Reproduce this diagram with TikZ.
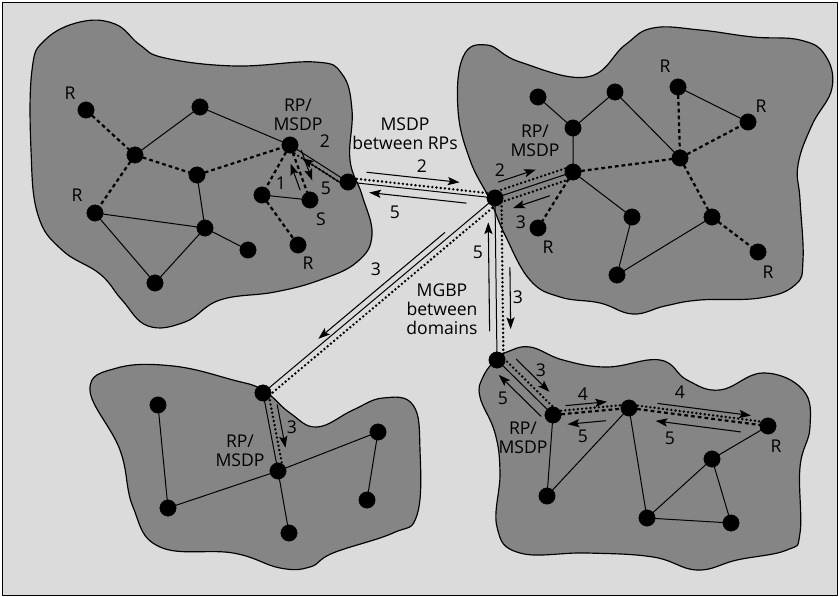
\documentclass[tikz,border=0pt]{standalone}
\usepackage{fontspec}
\setmainfont{Open Sans}
\usetikzlibrary{calc,arrows.meta}

\begin{document}
\begin{tikzpicture}[x=0.03cm, y=-0.03cm, line join=round, line cap=round,
    dot/.style={draw,circle,minimum size=4.9mm,inner sep=0pt,outer sep=0pt,fill=black},
    region/.style={draw, line width=1pt, fill=black!48},
    link/.style={line width=0.85pt},
    rpt/.style={line width=1.9pt, dash pattern=on 3.2pt off 2.6pt, line cap=butt},
    spt/.style={line width=2.3pt, dash pattern=on 0pt off 3.6pt, line cap=round},
    msg/.style={line width=0.9pt, -{Stealth[length=10pt,width=7pt,inset=2pt]}},
    lbl/.style={font=\fontsize{15}{16}\selectfont, inner sep=1pt, align=center}]

  \useasboundingbox (0,0) rectangle (839,597);
  \draw[fill=black!14, line width=0.6pt] (2,2) rectangle (837,595);

  % domains
  \draw[region] plot[smooth cycle, tension=0.7] coordinates {(45,40) (80,22) (115,24) (140,45) (165,58) (235,66) (315,62) (342,74) (352,110) (350,160) (362,195) (372,235) (357,262) (320,280) (275,292) (220,300) (185,322) (148,326) (122,300) (100,274) (62,250) (38,215) (31,150) (32,70)};
  \draw[region] plot[smooth cycle, tension=0.7] coordinates {(463,57) (487,45) (520,62) (587,77) (625,45) (653,28) (700,30) (753,37) (800,40) (825,55) (832,88) (812,125) (798,165) (800,200) (803,260) (795,285) (760,298) (700,300) (665,306) (633,314) (600,303) (560,297) (530,280) (505,235) (490,200) (470,160) (458,110)};
  \draw[region] plot[smooth cycle, tension=0.7] coordinates {(90,390) (117,368) (173,366) (233,380) (263,390) (290,413) (317,427) (353,410) (383,398) (413,405) (420,450) (417,515) (393,533) (333,553) (310,567) (280,568) (233,553) (160,547) (133,507) (120,450)};
  \draw[region] plot[smooth cycle, tension=0.7] coordinates {(497,358) (483,377) (480,397) (495,433) (500,473) (497,527) (520,553) (587,553) (653,557) (697,570) (737,560) (787,550) (800,533) (800,467) (810,427) (803,390) (763,373) (720,390) (687,380) (660,360) (607,367) (563,360) (530,347) (507,352)};

  % routers
  \node[dot] (a1) at (86,110) {};
  \node[dot] (a2) at (200,107) {};
  \node[dot] (a3) at (135,155) {};
  \node[dot] (a4) at (290,145) {};
  \node[dot] (a5) at (197,175) {};
  \node[dot] (a6) at (348,182) {};
  \node[dot] (a7) at (262,195) {};
  \node[dot] (a8) at (310,200) {};
  \node[dot] (a9) at (95,213) {};
  \node[dot] (a10) at (205,228) {};
  \node[dot] (a11) at (248,250) {};
  \node[dot] (a12) at (298,245) {};
  \node[dot] (a13) at (155,283) {};

  \node[dot] (hub) at (495,198) {};

  \node[dot] (b1) at (538,97) {};
  \node[dot] (b2) at (615,92) {};
  \node[dot] (b3) at (678,87) {};
  \node[dot] (b4) at (573,128) {};
  \node[dot] (b5) at (748,122) {};
  \node[dot] (b6) at (573,172) {};
  \node[dot] (b7) at (680,158) {};
  \node[dot] (b8) at (538,228) {};
  \node[dot] (b9) at (632,217) {};
  \node[dot] (b10) at (712,217) {};
  \node[dot] (b11) at (758,252) {};
  \node[dot] (b12) at (617,275) {};

  \node[dot] (c1) at (263,393) {};
  \node[dot] (c2) at (158,405) {};
  \node[dot] (c3) at (278,471) {};
  \node[dot] (c4) at (378,432) {};
  \node[dot] (c5) at (168,508) {};
  \node[dot] (c6) at (367,500) {};
  \node[dot] (c7) at (289,533) {};

  \node[dot] (d1) at (497,360) {};
  \node[dot] (d2) at (553,415) {};
  \node[dot] (d3) at (629,408) {};
  \node[dot] (d4) at (768,426) {};
  \node[dot] (d5) at (547,496) {};
  \node[dot] (d6) at (712,459) {};
  \node[dot] (d7) at (647,518) {};
  \node[dot] (d8) at (731,523) {};

  % links
  \draw[link] (a2) -- (a3);
  \draw[link] (a2) -- (a4);
  \draw[link] (a5) -- (a10);
  \draw[link] (a9) -- (a10) -- (a11);
  \draw[link] (a9) -- (a13) -- (a10);
  \draw[link] (a7) -- (a8);
  \draw[link] (a4) -- (a6) -- (hub);

  \draw[link] (b1) -- (b4) -- (b2) -- (b7);
  \draw[link] (b3) -- (b5);
  \draw[link] (b4) -- (b6) -- (b9) -- (b12) -- (b10);
  \draw[link] (hub) -- (b6);

  \draw[link] (hub) -- (c1) -- (c3) -- (c7);
  \draw[link] (c2) -- (c5) -- (c3) -- (c4) -- (c6);

  \draw[link] (hub) -- (d1) -- (d2) -- (d5) -- (d3) -- (d7) -- (d6) -- (d4);
  \draw[link] (d6) -- (d8) -- (d7);

  % shared trees
  \draw[rpt] (a1) -- (a3) -- (a5) -- (a4);
  \draw[rpt] (a3) -- (a9);
  \draw[rpt] (a4) -- (a7) -- (a12);
  \draw[rpt] (a4) -- (a8);
  \draw[rpt] (b3) -- (b7) -- (b5);
  \draw[rpt] (b6) -- (b7) -- (b10) -- (b11);
  \draw[rpt] (b6) -- (b8);
  \draw[rpt] (d2) -- (d3) -- (d4);

  % source tree
  \draw[spt] ($(a4)!4pt!-90:(a6)$) -- ($(a6)!4pt!90:(a4)$);
  \draw[spt] ($(a6)!3.5pt!90:(hub)$) -- ($(hub)!3.5pt!-90:(a6)$);
  \draw[spt] ($(hub)!5pt!90:(b6)$) -- ($(b6)!5pt!-90:(hub)$);
  \draw[spt] ($(hub)!5pt!-90:(b6)$) -- ($(b6)!5pt!90:(hub)$);
  \draw[spt] ($(hub)!5pt!90:(c1)$) -- ($(c1)!5pt!-90:(hub)$);
  \draw[spt] ($(hub)!5.5pt!90:(d1)$) -- ($(d1)!5.5pt!-90:(hub)$);
  \draw[spt] ($(c1)!4.5pt!90:(c3)$) -- ($(c3)!4.5pt!-90:(c1)$);
  \draw[spt] ($(d1)!5pt!90:(d2)$) -- ($(d2)!5pt!-90:(d1)$);
  \draw[spt] ($(d2)!3pt!90:(d3)$) -- ($(d3)!3pt!-90:(d2)$);
  \draw[spt] ($(d3)!3pt!90:(d4)$) -- ($(d4)!3pt!-90:(d3)$);

  % messages
  \draw[msg] ($(a6)!0.1!(a4)!4pt!90:(a4)$) -- ($(a6)!0.75!(a4)!4pt!90:(a4)$);
  \draw[msg] ($(a8)!0.22!(a4)!5pt!90:(a4)$) -- ($(a8)!0.7!(a4)!5pt!90:(a4)$);
  \draw[msg] ($(a4)!0.15!(a8)!7.5pt!90:(a8)$) -- ($(a4)!0.7!(a8)!7.5pt!90:(a8)$);
  \draw[msg] ($(a6)!0.12!(hub)!10pt!90:(hub)$) -- ($(a6)!0.75!(hub)!10pt!90:(hub)$);
  \draw[msg] ($(hub)!0.19!(a6)!7pt!90:(a6)$) -- ($(hub)!0.85!(a6)!7pt!90:(a6)$);
  \draw[msg] ($(hub)!0.1!(b6)!12pt!90:(b6)$) -- ($(hub)!0.58!(b6)!12pt!90:(b6)$);
  \draw[msg] ($(b6)!0.36!(hub)!13pt!90:(hub)$) -- ($(b6)!0.83!(hub)!13pt!90:(hub)$);
  \draw[msg] ($(hub)!0.2!(c1)!5pt!-90:(c1)$) -- ($(hub)!0.745!(c1)!5pt!-90:(c1)$);
  \draw[msg] ($(d1)!0.18!(hub)!6pt!90:(hub)$) -- ($(d1)!0.85!(hub)!6pt!90:(hub)$);
  \draw[msg] ($(hub)!0.43!(d1)!12pt!90:(d1)$) -- ($(hub)!0.81!(d1)!12pt!90:(d1)$);
  \draw[msg] ($(c1)!0.18!(c3)!10pt!90:(c3)$) -- ($(c1)!0.73!(c3)!10pt!90:(c3)$);
  \draw[msg] ($(d1)!0.17!(d2)!12pt!90:(d2)$) -- ($(d1)!0.76!(d2)!12pt!90:(d2)$);
  \draw[msg] ($(d2)!0.1!(d1)!8pt!90:(d1)$) -- ($(d2)!0.85!(d1)!8pt!90:(d1)$);
  \draw[msg] ($(d2)!0.18!(d3)!7pt!90:(d3)$) -- ($(d2)!0.72!(d3)!7pt!90:(d3)$);
  \draw[msg] ($(d3)!0.32!(d2)!9pt!90:(d2)$) -- ($(d3)!0.82!(d2)!9pt!90:(d2)$);
  \draw[msg] ($(d3)!0.2!(d4)!7pt!90:(d4)$) -- ($(d3)!0.87!(d4)!7pt!90:(d4)$);
  \draw[msg] ($(d4)!0.19!(d3)!8pt!90:(d3)$) -- ($(d4)!0.8!(d3)!8pt!90:(d3)$);

  % labels
  \node[lbl] (ta1) at (70,93) {R};
  \node[lbl] (ta9) at (77,195) {R};
  \node[lbl] (ta12) at (308,263) {R};
  \node[lbl] (ta8) at (321,219) {S};
  \node[lbl] (ta4) at (298,115) {RP/\\MSDP};
  \node[lbl] (n1) at (281,183) {1};
  \node[lbl] (n5a) at (326,188) {5};
  \node[lbl] (n2a) at (325,141) {2};

  \node[lbl] (msdp) at (405,134) {MSDP\\between RPs};
  \node[lbl] (n2b) at (422,166) {2};
  \node[lbl] (n5b) at (395,212) {5};

  \node[lbl] (tb3) at (665,66) {R};
  \node[lbl] (tb5) at (761,106) {R};
  \node[lbl] (tb8) at (548,247) {R};
  \node[lbl] (tb11) at (768,272) {R};
  \node[lbl] (tb6) at (535,141) {RP/\\MSDP};
  \node[lbl] (n2c) at (500,170) {2};
  \node[lbl] (n3a) at (521,222) {3};

  \node[lbl] (n3b) at (376,269) {3};
  \node[lbl] (mgbp) at (442,309) {MGBP\\between\\domains};
  \node[lbl] (n5c) at (478,252) {5};
  \node[lbl] (n3c) at (518,297) {3};

  \node[lbl] (tc3) at (240,451) {RP/\\MSDP};
  \node[lbl] (n3d) at (292,427) {3};

  \node[lbl] (td2) at (523,438) {RP/\\MSDP};
  \node[lbl] (td4) at (776,446) {R};
  \node[lbl] (n3e) at (541,370) {3};
  \node[lbl] (n5d) at (503,398) {5};
  \node[lbl] (n4a) at (583,394) {4};
  \node[lbl] (n5e) at (583,436) {5};
  \node[lbl] (n4b) at (680,392) {4};
  \node[lbl] (n5f) at (670,438) {5};
\end{tikzpicture}
\end{document}
